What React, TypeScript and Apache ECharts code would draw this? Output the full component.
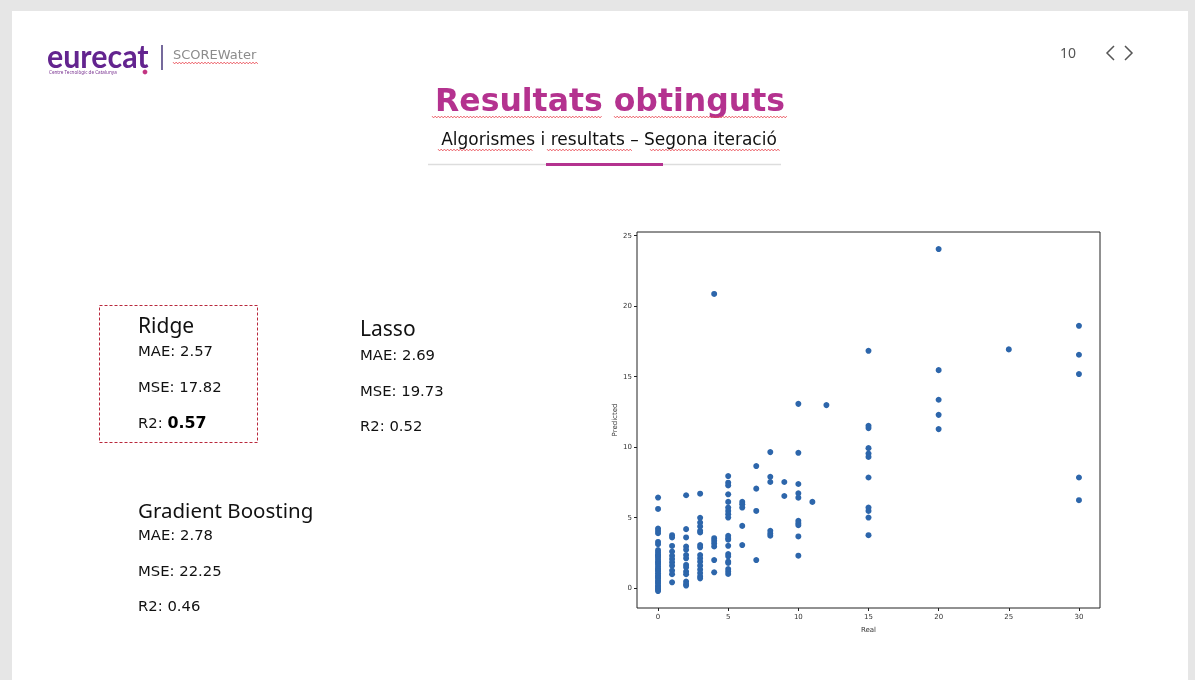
import React, { useEffect, useRef } from "react";
import * as echarts from "echarts";

// ---- data ----
const xTickValues = [0, 5, 10, 15, 20, 25, 30];
const yTickValues = [0, 5, 10, 15, 20, 25];

const predAtReal0 = [6.43, 5.62, 4.23, 4.06, 3.9, 3.28, 3.12, 2.7, 2.55, 2.4, 2.3, 2.2, 2.05, 1.9, 1.8, 1.7, 1.55, 1.4, 1.3, 1.2, 1.05, 0.9, 0.8, 0.7, 0.55, 0.45, 0.35, 0.2, 0.1, 0.0, -0.1, -0.2];
const predAtReal1 = [3.76, 3.6, 3.0, 2.6, 2.3, 2.07, 1.84, 1.6, 1.25, 1.0, 0.42];
const predAtReal2 = [6.59, 4.19, 3.6, 2.96, 2.73, 2.35, 2.12, 1.65, 1.48, 1.18, 1.0, 0.47, 0.3, 0.19];
const predAtReal3 = [6.7, 4.99, 4.66, 4.38, 4.07, 3.95, 3.06, 2.9, 2.35, 2.12, 1.88, 1.6, 1.32, 1.08, 0.85, 0.7];
const predAtReal4 = [20.86, 3.55, 3.36, 3.18, 2.96, 2.0, 1.13];
const predAtReal5 = [7.95, 7.48, 7.29, 6.66, 6.12, 5.72, 5.48, 5.25, 5.01, 3.72, 3.55, 3.44, 3.01, 2.42, 2.26, 1.88, 1.79, 1.36, 1.18, 1.01];
const predAtReal6 = [6.12, 5.95, 5.72, 4.42, 3.06];
const predAtReal7 = [8.66, 7.06, 5.48, 2.0];
const predAtReal8 = [9.65, 7.9, 7.53, 4.07, 3.88, 3.72];
const predAtReal9 = [7.53, 6.54];
const predAtReal10 = [13.07, 9.6, 7.39, 6.73, 6.42, 4.78, 4.61, 4.47, 3.67, 2.31];
const predAtReal11 = [6.12];
const predAtReal12 = [12.98];
const predAtReal15 = [16.83, 11.51, 11.35, 9.93, 9.55, 9.31, 7.85, 5.72, 5.48, 5.01, 3.76];
const predAtReal20 = [24.04, 15.46, 13.36, 12.29, 11.28];
const predAtReal25 = [16.93];
const predAtReal30 = [18.6, 16.55, 15.18, 7.85, 6.24];

const realLevels = [0, 1, 2, 3, 4, 5, 6, 7, 8, 9, 10, 11, 12, 15, 20, 25, 30];
const predictedByLevel = [
  predAtReal0, predAtReal1, predAtReal2, predAtReal3, predAtReal4, predAtReal5,
  predAtReal6, predAtReal7, predAtReal8, predAtReal9, predAtReal10, predAtReal11,
  predAtReal12, predAtReal15, predAtReal20, predAtReal25, predAtReal30,
];

const titleText = "Resultats obtinguts";
const subtitleText = "Algorismes i resultats – Segona iteració";
const models = [
  { name: "Ridge", mae: "2.57", mse: "17.82", r2: "0.57" },
  { name: "Lasso", mae: "2.69", mse: "19.73", r2: "0.52" },
  { name: "Gradient Boosting", mae: "2.78", mse: "22.25", r2: "0.46" },
];

function squiggle(x1: number, x2: number, y: number) {
  const pts: number[][] = [];
  let up = true;
  for (let x = x1; x <= x2; x += 1.6) {
    pts.push([x, up ? y - 0.9 : y + 0.9]);
    up = !up;
  }
  return {
    type: "polyline",
    silent: true,
    shape: { points: pts },
    style: { stroke: "#e8404a", lineWidth: 0.8, fill: "none" },
  };
}

const metricFont = '14px "DejaVu Sans"';
const headFont = (s: number) => `${s}px "Noto Sans"`;

function metricBlock(m: typeof models[number], x: number, headY: number, headSize: number, ys: number[], boldR2: boolean) {
  return [
    { type: "text", x, y: headY, style: { text: m.name, font: headFont(headSize), fill: "#111", verticalAlign: "middle" } },
    { type: "text", x, y: ys[0], scaleX: 1.06, style: { text: `MAE: ${m.mae}`, font: metricFont, fill: "#111", verticalAlign: "middle" } },
    { type: "text", x, y: ys[1], scaleX: 1.06, style: { text: `MSE: ${m.mse}`, font: metricFont, fill: "#111", verticalAlign: "middle" } },
    boldR2
      ? {
          type: "text", x, y: ys[2], scaleX: 1.06,
          style: {
            text: `{n|R2: }{b|${m.r2}}`,
            verticalAlign: "middle",
            rich: {
              n: { font: metricFont, fill: "#111", color: "#111" },
              b: { font: 'bold 15px "DejaVu Sans"', fill: "#000", color: "#000" },
            },
          },
        }
      : { type: "text", x, y: ys[2], scaleX: 1.06, style: { text: `R2: ${m.r2}`, font: metricFont, fill: "#111", verticalAlign: "middle" } },
  ];
}

export default function App() {
  const ref = useRef<HTMLDivElement>(null);

  useEffect(() => {
    if (!ref.current) return;
    const chart = echarts.init(ref.current, undefined, { renderer: "svg" });

    const points: number[][] = [];
    realLevels.forEach((rv, i) => {
      predictedByLevel[i].forEach((pv) => points.push([rv, pv]));
    });

    const graphics: any[] = [
      { type: "rect", z: -10, silent: true, shape: { x: 0, y: 0, width: 1195, height: 680 }, style: { fill: "#e6e6e6" } },
      { type: "rect", z: -9, silent: true, shape: { x: 12, y: 11, width: 1176, height: 680 }, style: { fill: "#ffffff" } },
      // logo
      { type: "text", x: 47, y: 56, scaleX: 0.95, style: { text: "eurecat", font: 'bold 32px "Lato"', verticalAlign: "middle", fill: "#63248f" } },
      { type: "text", x: 49, y: 72, style: { text: "Centre Tecnològic de Catalunya", font: '4.6px "Noto Sans"', fill: "#7b3592", verticalAlign: "middle" } },
      { type: "circle", shape: { cx: 145, cy: 72, r: 2.4 }, style: { fill: "#c23482" } },
      { type: "line", shape: { x1: 162, y1: 45, x2: 162, y2: 70 }, style: { stroke: "#3b2a72", lineWidth: 1.4 } },
      { type: "text", x: 173, y: 54, style: { text: "SCOREWater", font: '13px "DejaVu Sans"', fill: "#8c8c8c", verticalAlign: "middle" } },
      squiggle(173, 258, 63),
      // page nav
      { type: "text", x: 1060, y: 52, style: { text: "10", font: '14px "Noto Sans"', fill: "#555", verticalAlign: "middle" } },
      { type: "polyline", shape: { points: [[1114, 46], [1107, 53], [1114, 60]] }, style: { stroke: "#555", lineWidth: 1.5, fill: "none" } },
      { type: "polyline", shape: { points: [[1125, 46], [1132, 53], [1125, 60]] }, style: { stroke: "#555", lineWidth: 1.5, fill: "none" } },
      // title
      { type: "text", x: 610, y: 100, style: { text: titleText, font: 'bold 31.5px "DejaVu Sans"', fill: "#b4328f", align: "center", verticalAlign: "middle" } },
      squiggle(432, 603, 117),
      squiggle(614, 788, 117),
      { type: "text", x: 609, y: 139, style: { text: subtitleText, font: '17px "DejaVu Sans"', fill: "#111", align: "center", verticalAlign: "middle" } },
      squiggle(438, 533, 150),
      squiggle(547, 632, 150),
      squiggle(650, 780, 150),
      { type: "line", shape: { x1: 428, y1: 164.5, x2: 781, y2: 164.5 }, style: { stroke: "#dddddd", lineWidth: 1.5 } },
      { type: "line", shape: { x1: 546, y1: 164.5, x2: 663, y2: 164.5 }, style: { stroke: "#b4328f", lineWidth: 3 } },
      // Ridge box
      { type: "rect", shape: { x: 99.5, y: 305.5, width: 158, height: 137 }, style: { fill: "none", stroke: "#b8283c", lineWidth: 1, lineDash: [3, 2] } },
      ...metricBlock(models[0], 138, 324.5, 21, [351, 387.5, 423.5], true),
      ...metricBlock(models[1], 360, 327.5, 21, [355, 391.5, 426.5], false),
      ...metricBlock(models[2], 138, 509.5, 20.5, [535, 571, 606], false),
    ];

    chart.setOption({
      animation: false,
      graphic: { elements: graphics },
      grid: { left: 637, top: 232, width: 463, height: 376, show: true, borderColor: "#222", borderWidth: 1, backgroundColor: "transparent", outerBoundsMode: "none", containLabel: false },
      xAxis: {
        type: "value", min: -1.5, max: 31.5,
        name: "Real", nameLocation: "middle", nameGap: 18,
        nameTextStyle: { fontSize: 7, color: "#333", fontFamily: "DejaVu Sans" },
        axisLine: { show: false, onZero: false },
        splitLine: { show: false },
        axisTick: { show: true, length: 3, lineStyle: { color: "#222" }, customValues: xTickValues },
        axisLabel: { fontSize: 7, color: "#333", fontFamily: "DejaVu Sans", margin: 5, customValues: xTickValues },
      },
      yAxis: {
        type: "value", min: -1.4, max: 25.25,
        name: "Predicted", nameLocation: "middle", nameGap: 19,
        nameTextStyle: { fontSize: 7, color: "#333", fontFamily: "DejaVu Sans" },
        axisLine: { show: false, onZero: false },
        splitLine: { show: false },
        axisTick: { show: true, length: 3, lineStyle: { color: "#222" }, customValues: yTickValues },
        axisLabel: { fontSize: 7, color: "#333", fontFamily: "DejaVu Sans", margin: 5, customValues: yTickValues },
      },
      series: [
        {
          type: "scatter",
          data: points,
          symbolSize: 6,
          itemStyle: { color: "#2d66ab", opacity: 1 },
        },
      ],
    });

    return () => chart.dispose();
  }, []);

  return (
    <div
      ref={ref}
      style={{ position: "fixed", left: 0, top: 0, width: 1195, height: 680 }}
    />
  );
}
